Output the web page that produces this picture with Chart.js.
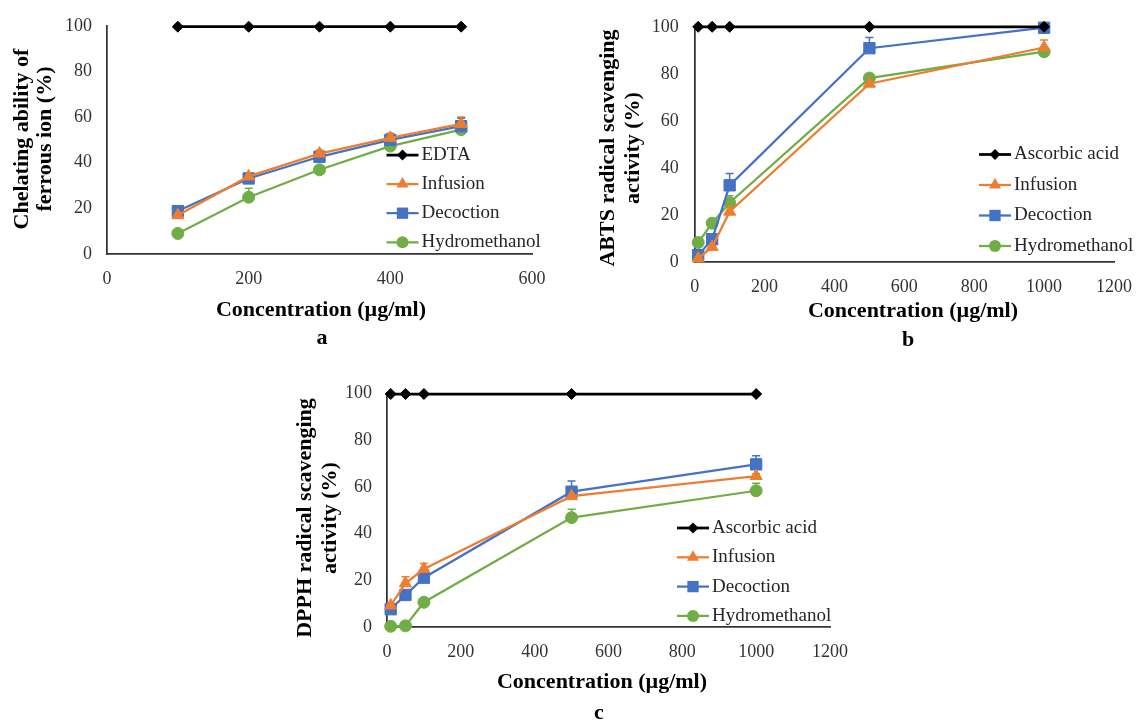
<!DOCTYPE html>
<html>
<head>
<meta charset="utf-8">
<title>Antioxidant activity</title>
<script src="https://cdn.jsdelivr.net/npm/chart.js@4.4.1/dist/chart.umd.min.js"></script>
<style>
  body { margin: 0; background: #fff; }
  canvas { position: absolute; left: 0; top: 0; }
</style>
</head>
<body>
<canvas id="chartA" width="1146" height="720"></canvas>
<canvas id="chartB" width="1146" height="720"></canvas>
<canvas id="chartC" width="1146" height="720"></canvas>
<script>
// ---- data ----
const seriesNames = ['Infusion', 'Decoction', 'Hydromethanol']
const xTicksA = [0, 200, 400, 600]
const xTicksBC = [0, 200, 400, 600, 800, 1000, 1200]
const yTicks = [0, 20, 40, 60, 80, 100]

// a: ferrous ion chelating
const concA = [100, 200, 300, 400, 500]
const edtaA = [99.6, 99.6, 99.6, 99.6, 99.6]
const infusionA = [17, 34, 44, 50.9, 57]
const infusionErrA = [1, 1.5, 1.5, 2, 3]
const decoctionA = [18.8, 33.1, 42.6, 50, 56]
const decoctionErrA = [0.5, 1, 1, 1.5, 3.5]
const hydroA = [9, 24.9, 36.9, 47.3, 54.5]
const hydroErrA = [0.5, 3.9, 1, 1, 1]

// b: ABTS
const concB = [10, 50, 100, 500, 1000]
const ascorbicB = [100, 100, 100, 100, 100]
const infusionB = [1.5, 6.4, 21.4, 75.8, 91.2]
const infusionErrB = [0.5, 1, 2, 1, 3.2]
const decoctionB = [2.9, 9.7, 32.6, 90.9, 99.6]
const decoctionErrB = [0.5, 1, 5, 4.5, 0.5]
const hydroB = [8.3, 16.5, 25.2, 78.2, 89.4]
const hydroErrB = [0.5, 1.5, 3, 0.5, 0.5]

// c: DPPH
const concC = [10, 50, 100, 500, 1000]
const ascorbicC = [99.7, 99.7, 99.7, 99.7, 99.7]
const infusionC = [9.2, 18.7, 24.8, 56, 64.6]
const infusionErrC = [1, 2.8, 2.4, 1, 1]
const decoctionC = [7.6, 13.7, 21.1, 57.9, 69.6]
const decoctionErrC = [0.5, 1, 1, 4.6, 3.7]
const hydroC = [0.3, 0.5, 10.6, 46.8, 58.3]
const hydroErrC = [0.3, 0.3, 1, 3.6, 3.2]

// ---- styles ----
const FONT = 'Liberation Serif'
const styles = {
  ref: { color: '#000000', pointStyle: 'rectRot', radius: 5.5, width: 2.75 },
  Infusion: { color: '#ED7D31', pointStyle: 'triangle', radius: 7, width: 2.25 },
  Decoction: { color: '#4472C4', pointStyle: 'rect', radius: 8, width: 2.25 },
  Hydromethanol: { color: '#70AD47', pointStyle: 'circle', radius: 6, width: 2.25 }
}

function makeDataset (label, st, xs, ys, errs) {
  return {
    label,
    data: xs.map((x, i) => ({ x, y: ys[i] })),
    errors: errs || null,
    borderColor: st.color,
    backgroundColor: st.color,
    pointBackgroundColor: st.color,
    pointBorderColor: st.color,
    pointBorderWidth: 1,
    pointStyle: st.pointStyle,
    pointRadius: st.radius,
    pointHoverRadius: st.radius,
    borderWidth: st.width,
    tension: 0,
    clip: false,
    markerStyle: st
  }
}

function drawMarker (ctx, st, x, y) {
  const r = st.radius
  ctx.fillStyle = st.color
  ctx.beginPath()
  if (st.pointStyle === 'rectRot') {
    ctx.moveTo(x, y - r); ctx.lineTo(x + r, y); ctx.lineTo(x, y + r); ctx.lineTo(x - r, y)
  } else if (st.pointStyle === 'triangle') {
    ctx.moveTo(x, y - r)
    ctx.lineTo(x + Math.sin(2 * Math.PI / 3) * r, y - Math.cos(2 * Math.PI / 3) * r)
    ctx.lineTo(x + Math.sin(4 * Math.PI / 3) * r, y - Math.cos(4 * Math.PI / 3) * r)
  } else if (st.pointStyle === 'rect') {
    const s = r * Math.SQRT1_2
    ctx.rect(x - s, y - s, 2 * s, 2 * s)
  } else {
    ctx.arc(x, y, r, 0, Math.PI * 2)
  }
  ctx.closePath()
  ctx.fill()
}

// plus-direction error bars, drawn under the markers
const errorBars = {
  id: 'errorBars',
  beforeDatasetsDraw (chart) {
    const { ctx, scales: { x, y } } = chart
    chart.data.datasets.forEach(ds => {
      if (!ds.errors) return
      ctx.save()
      ctx.strokeStyle = ds.borderColor
      ctx.lineWidth = 1.5
      ds.data.forEach((p, j) => {
        const e = ds.errors[j]
        if (!e) return
        const px = x.getPixelForValue(p.x)
        const py = y.getPixelForValue(p.y)
        const pe = y.getPixelForValue(p.y + e)
        ctx.beginPath()
        ctx.moveTo(px, py); ctx.lineTo(px, pe)
        ctx.moveTo(px - 4, pe); ctx.lineTo(px + 4, pe)
        ctx.stroke()
      })
      ctx.restore()
    })
  }
}

// legend drawn inside the plot, Excel style
const boxLegend = {
  id: 'boxLegend',
  afterDraw (chart, args, opts) {
    const { ctx } = chart
    ctx.save()
    chart.data.datasets.forEach((ds, i) => {
      const st = ds.markerStyle
      const y = opts.y + i * opts.gap
      ctx.strokeStyle = st.color
      ctx.lineWidth = st.width
      ctx.beginPath()
      ctx.moveTo(opts.x, y); ctx.lineTo(opts.x + 32, y)
      ctx.stroke()
      drawMarker(ctx, st, opts.x + 16, y)
      ctx.fillStyle = '#262626'
      ctx.font = '19px "' + FONT + '"'
      ctx.textAlign = 'left'
      ctx.textBaseline = 'middle'
      ctx.fillText(ds.label, opts.x + 35, y)
    })
    ctx.restore()
  }
}

// axis titles and panel letter
const panelText = {
  id: 'panelText',
  afterDraw (chart, args, opts) {
    const { ctx } = chart
    ctx.save()
    ctx.fillStyle = '#000'
    ctx.font = 'bold 22px "' + FONT + '"'
    ctx.textAlign = 'center'
    ctx.textBaseline = 'middle'
    opts.yLines.forEach((line, i) => {
      ctx.save()
      ctx.translate(opts.yX[i], opts.yMid)
      ctx.rotate(-Math.PI / 2)
      ctx.fillText(line, 0, 0)
      ctx.restore()
    })
    ctx.fillText(opts.xTitle, opts.xTitleX, opts.xTitleY)
    ctx.fillText(opts.letter, opts.letterX, opts.letterY)
    ctx.restore()
  }
}

function makeChart (id, datasets, area, xTicks, yPad, text, legend) {
  const yWidth = 60
  const xHeight = 40
  const tickFont = { family: FONT, size: 18 }
  // eslint-disable-next-line
  new Chart(document.getElementById(id), {
    type: 'line',
    data: { datasets },
    plugins: [errorBars, boxLegend, panelText],
    options: {
      responsive: false,
      animation: false,
      events: [],
      layout: {
        padding: {
          left: area.left - yWidth,
          top: area.top,
          right: 1146 - area.right,
          bottom: 720 - area.bottom - xHeight
        }
      },
      plugins: {
        legend: { display: false },
        tooltip: { enabled: false },
        boxLegend: legend,
        panelText: text
      },
      scales: {
        x: {
          type: 'linear',
          min: xTicks[0],
          max: xTicks[xTicks.length - 1],
          afterBuildTicks: s => { s.ticks = xTicks.map(v => ({ value: v })) },
          afterFit: s => { s.height = xHeight },
          grid: { display: false, drawTicks: false },
          border: { display: true, color: '#333', width: 1.75 },
          ticks: { font: tickFont, color: '#333', padding: 14, maxRotation: 0, callback: v => String(v) }
        },
        y: {
          min: 0,
          max: 100,
          afterBuildTicks: s => { s.ticks = yTicks.map(v => ({ value: v })) },
          afterFit: s => { s.width = yWidth },
          grid: { display: false, drawTicks: false },
          border: { display: true, color: '#333', width: 1.75 },
          ticks: { font: tickFont, color: '#333', padding: yPad, callback: v => String(v) }
        }
      }
    }
  })
}

makeChart('chartA', [
  makeDataset('EDTA', styles.ref, concA, edtaA),
  makeDataset(seriesNames[0], styles.Infusion, concA, infusionA, infusionErrA),
  makeDataset(seriesNames[1], styles.Decoction, concA, decoctionA, decoctionErrA),
  makeDataset(seriesNames[2], styles.Hydromethanol, concA, hydroA, hydroErrA)
], { left: 107, top: 23.5, right: 532, bottom: 254 }, xTicksA, 15, {
  yLines: ['Chelating ability of', 'ferrous ion (%)'], yX: [22.5, 45], yMid: 139,
  xTitle: 'Concentration (µg/ml)', xTitleX: 321, xTitleY: 310,
  letter: 'a', letterX: 322, letterY: 338
}, { x: 386.5, y: 155, gap: 29.1 })

makeChart('chartB', [
  makeDataset('Ascorbic acid', styles.ref, concB, ascorbicB),
  makeDataset(seriesNames[0], styles.Infusion, concB, infusionB, infusionErrB),
  makeDataset(seriesNames[1], styles.Decoction, concB, decoctionB, decoctionErrB),
  makeDataset(seriesNames[2], styles.Hydromethanol, concB, hydroB, hydroErrB)
], { left: 694.7, top: 24, right: 1126.7, bottom: 262 }, xTicksBC, 16, {
  yLines: ['ABTS radical scavenging', 'activity (%)'], yX: [608, 633], yMid: 148,
  xTitle: 'Concentration (µg/ml)', xTitleX: 913, xTitleY: 311,
  letter: 'b', letterX: 908, letterY: 340
}, { x: 979, y: 154.5, gap: 30.5 })

makeChart('chartC', [
  makeDataset('Ascorbic acid', styles.ref, concC, ascorbicC),
  makeDataset(seriesNames[0], styles.Infusion, concC, infusionC, infusionErrC),
  makeDataset(seriesNames[1], styles.Decoction, concC, decoctionC, decoctionErrC),
  makeDataset(seriesNames[2], styles.Hydromethanol, concC, hydroC, hydroErrC)
], { left: 387, top: 393.3, right: 830, bottom: 627 }, xTicksBC, 15, {
  yLines: ['DPPH radical scavenging', 'activity (%)'], yX: [305, 330], yMid: 518,
  xTitle: 'Concentration (µg/ml)', xTitleX: 602, xTitleY: 682,
  letter: 'c', letterX: 599, letterY: 713
}, { x: 677, y: 528, gap: 29.3 })
</script>
</body>
</html>
